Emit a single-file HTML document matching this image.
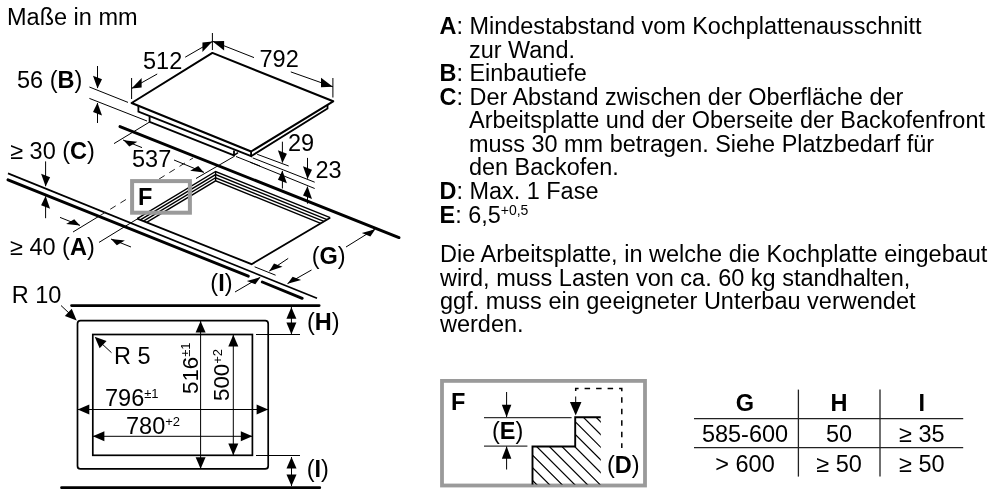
<!DOCTYPE html>
<html><head><meta charset="utf-8"><style>
html,body{margin:0;padding:0;background:#fff;width:1000px;height:500px;overflow:hidden}
svg{display:block;font-family:"Liberation Sans",sans-serif;fill:#000;filter:grayscale(1)}
</style></head><body>
<svg width="1000" height="500" viewBox="0 0 1000 500">
<path d="M251.10,151.50 L131.60,103.00 L212.40,52.90 L333.20,101.30 Z" fill="none" stroke="#000" stroke-width="2" stroke-linejoin="round"/>
<path d="M138.40,105.70 L138.40,111.60 L251.10,156.20 L251.10,151.50" fill="none" stroke="#000" stroke-width="1.8" stroke-linejoin="miter" />
<path d="M251.10,156.20 L327.50,108.60 L327.50,105.00" fill="none" stroke="#000" stroke-width="1.8" stroke-linejoin="miter" />
<path d="M149.60,116.20 L149.60,121.80 L234.00,155.30 L234.00,150.60" fill="none" stroke="#000" stroke-width="1.8" stroke-linejoin="miter" />
<path d="M234.00,155.30 L238.00,152.60" fill="none" stroke="#000" stroke-width="1.6" stroke-linejoin="miter" />
<path d="M8.00,173.40 L317.00,298.30" fill="none" stroke="#000" stroke-width="1.7" stroke-linejoin="miter" />
<path d="M8,179.8 L248.3,276.2 M262.3,282 L302.2,298.3" stroke="#000" stroke-width="2.9" stroke-linecap="round" fill="none"/>
<path d="M120,126.6 L399,237.6" stroke="#000" stroke-width="2.9" stroke-linecap="round" fill="none"/>
<path d="M137.20,218.70 L251.60,264.20 L330.20,217.70" fill="none" stroke="#000" stroke-width="1.8" stroke-linejoin="miter" />
<line x1="215.60" y1="171.50" x2="215.60" y2="180.90" stroke="#000" stroke-width="1.4" />
<path d="M137.20,218.70 L215.60,171.50 L330.20,217.70" fill="none" stroke="#000" stroke-width="1.4" stroke-linejoin="miter" />
<path d="M140.33,219.95 L215.60,174.63 L327.05,219.56" fill="none" stroke="#000" stroke-width="1.4" stroke-linejoin="miter" />
<path d="M143.46,221.19 L215.60,177.76 L323.91,221.42" fill="none" stroke="#000" stroke-width="1.4" stroke-linejoin="miter" />
<path d="M146.59,222.44 L215.60,180.89 L320.76,223.28" fill="none" stroke="#000" stroke-width="1.4" stroke-linejoin="miter" />
<line x1="131.60" y1="78.00" x2="131.60" y2="99.00" stroke="#000" stroke-width="1.0" />
<line x1="212.40" y1="33.00" x2="212.40" y2="50.00" stroke="#000" stroke-width="1.0" />
<line x1="332.90" y1="78.00" x2="332.90" y2="97.50" stroke="#000" stroke-width="1.0" />
<line x1="131.60" y1="88.40" x2="157.20" y2="74.00" stroke="#000" stroke-width="1.0" />
<line x1="185.20" y1="57.20" x2="212.40" y2="41.50" stroke="#000" stroke-width="1.0" />
<polygon points="131.60,88.40 141.62,87.51 141.62,78.01" fill="#000"/>
<polygon points="212.40,41.50 202.44,52.00 202.44,42.50" fill="#000"/>
<line x1="212.40" y1="41.20" x2="254.00" y2="57.60" stroke="#000" stroke-width="1.0" />
<line x1="290.80" y1="71.90" x2="332.90" y2="86.80" stroke="#000" stroke-width="1.0" />
<polygon points="212.40,41.20 224.12,50.57 224.12,41.07" fill="#000"/>
<polygon points="332.90,86.80 321.02,87.35 321.02,77.85" fill="#000"/>
<text x="143" y="68.7" font-size="23.5" font-weight="normal" text-anchor="start" >512</text>
<text x="259.5" y="66.5" font-size="23.5" font-weight="normal" text-anchor="start" >792</text>
<line x1="89.40" y1="87.00" x2="128.00" y2="102.40" stroke="#000" stroke-width="1.0" />
<line x1="89.40" y1="98.40" x2="147.00" y2="121.00" stroke="#000" stroke-width="1.0" />
<line x1="97.50" y1="66.00" x2="97.50" y2="88.00" stroke="#000" stroke-width="1.0" />
<polygon points="97.50,88.50 102.00,79.30 93.00,75.70" fill="#000"/>
<line x1="97.50" y1="103.00" x2="97.50" y2="123.00" stroke="#000" stroke-width="1.0" />
<polygon points="97.50,102.80 102.00,115.60 93.00,112.00" fill="#000"/>
<text x="17" y="87.6" font-size="23.5">56 (<tspan font-weight="bold">B</tspan>)</text>
<line x1="114.00" y1="143.60" x2="149.60" y2="122.00" stroke="#000" stroke-width="1.0" />
<line x1="123.00" y1="140.00" x2="142.00" y2="147.60" stroke="#000" stroke-width="1.0" />
<polygon points="123.50,140.20 137.37,141.72 129.31,146.55" fill="#000"/>
<line x1="174.00" y1="160.00" x2="204.00" y2="172.40" stroke="#000" stroke-width="1.0" />
<polygon points="204.00,172.40 198.23,165.93 190.17,170.77" fill="#000"/>
<text x="132" y="166.6" font-size="23.5" font-weight="normal" text-anchor="start" >537</text>
<line x1="196.00" y1="178.50" x2="234.00" y2="156.50" stroke="#000" stroke-width="1.0" />
<line x1="236.00" y1="156.50" x2="260.00" y2="166.00" stroke="#000" stroke-width="1.0" />
<path d="M73,232 L100,215.6" stroke="#000" stroke-width="1"/>
<path d="M100,215.6 L130,197 M159.1,179 L193,158" stroke="#222" stroke-width="1" stroke-dasharray="6.5,5.5"/>
<text x="9" y="158.4" font-size="22" font-weight="normal" text-anchor="start" ></text>
<text x="10.2" y="159" font-size="23.5">≥ 30 (<tspan font-weight="bold">C</tspan>)</text>
<line x1="45.60" y1="161.40" x2="45.60" y2="186.20" stroke="#000" stroke-width="1.0" />
<polygon points="45.60,186.50 50.10,177.30 41.10,173.70" fill="#000"/>
<line x1="45.60" y1="196.30" x2="45.60" y2="218.20" stroke="#000" stroke-width="1.0" />
<polygon points="45.60,196.00 50.10,208.80 41.10,205.20" fill="#000"/>
<text x="10" y="255.3" font-size="23.5">≥ 40 (<tspan font-weight="bold">A</tspan>)</text>
<line x1="60.00" y1="217.40" x2="80.00" y2="225.40" stroke="#000" stroke-width="1.0" />
<polygon points="80.00,225.60 74.22,219.16 66.16,224.00" fill="#000"/>
<line x1="99.00" y1="242.40" x2="137.20" y2="219.00" stroke="#000" stroke-width="1.0" />
<line x1="111.00" y1="239.00" x2="131.00" y2="247.00" stroke="#000" stroke-width="1.0" />
<polygon points="111.00,239.00 124.87,240.52 116.81,245.35" fill="#000"/>
<line x1="257.20" y1="154.30" x2="288.70" y2="166.00" stroke="#000" stroke-width="1.0" />
<line x1="252.70" y1="157.90" x2="314.70" y2="182.20" stroke="#000" stroke-width="1.0" />
<line x1="250.00" y1="162.20" x2="314.70" y2="188.50" stroke="#000" stroke-width="1.0" />
<line x1="282.40" y1="141.70" x2="282.40" y2="162.40" stroke="#000" stroke-width="1.0" />
<polygon points="282.40,163.00 286.90,153.80 277.90,150.20" fill="#000"/>
<line x1="282.40" y1="171.00" x2="282.40" y2="188.50" stroke="#000" stroke-width="1.0" />
<polygon points="282.40,170.50 286.90,183.30 277.90,179.70" fill="#000"/>
<line x1="307.50" y1="157.90" x2="307.50" y2="178.60" stroke="#000" stroke-width="1.0" />
<polygon points="307.50,179.00 312.00,169.80 303.00,166.20" fill="#000"/>
<line x1="307.50" y1="186.70" x2="307.50" y2="203.70" stroke="#000" stroke-width="1.0" />
<polygon points="307.50,186.30 312.00,199.10 303.00,195.50" fill="#000"/>
<text x="288" y="151.2" font-size="23.5" font-weight="normal" text-anchor="start" >29</text>
<text x="315.5" y="178.2" font-size="23.5" font-weight="normal" text-anchor="start" >23</text>
<rect x="132.1" y="181.1" width="57.8" height="31.6" fill="none" stroke="#9a9a9a" stroke-width="4"/>
<text x="138" y="205" font-size="23.5" font-weight="bold">F</text>
<line x1="346.00" y1="247.00" x2="375.00" y2="229.00" stroke="#000" stroke-width="1.0" />
<polygon points="375.30,229.20 370.34,236.52 361.80,233.10" fill="#000"/>
<line x1="311.50" y1="270.00" x2="287.50" y2="283.60" stroke="#000" stroke-width="1.0" />
<polygon points="287.50,283.80 301.13,280.12 292.59,276.71" fill="#000"/>
<text x="311.7" y="264" font-size="23.5">(<tspan font-weight="bold">G</tspan>)</text>
<line x1="254.60" y1="266.80" x2="275.60" y2="275.20" stroke="#000" stroke-width="1.0" />
<line x1="288.20" y1="258.40" x2="269.30" y2="271.00" stroke="#000" stroke-width="1.0" />
<polygon points="269.30,271.20 282.51,266.85 273.97,263.44" fill="#000"/>
<line x1="235.00" y1="292.00" x2="260.20" y2="277.30" stroke="#000" stroke-width="1.0" />
<polygon points="260.40,277.20 255.34,284.35 246.80,280.93" fill="#000"/>
<text x="210.3" y="290.6" font-size="23.5">(<tspan font-weight="bold">I</tspan>)</text>
<path d="M71.5,305.6 L319.2,305.6 M61.5,487.7 L319.8,487.7" stroke="#000" stroke-width="2.7" stroke-linecap="round"/>
<rect x="77.5" y="320.7" width="190.7" height="148.2" rx="3" fill="none" stroke="#000" stroke-width="1.7"/>
<rect x="92.8" y="334.5" width="159.6" height="120.8" fill="none" stroke="#000" stroke-width="1.7"/>
<line x1="256.00" y1="334.50" x2="300.00" y2="334.50" stroke="#000" stroke-width="1.0" />
<line x1="256.00" y1="455.50" x2="300.00" y2="455.50" stroke="#000" stroke-width="1.0" />
<text x="11.8" y="303.1" font-size="23.5" font-weight="normal" text-anchor="start" >R 10</text>
<text x="114" y="363.5" font-size="23.5" font-weight="normal" text-anchor="start" >R 5</text>
<line x1="61.00" y1="305.50" x2="70.00" y2="314.00" stroke="#000" stroke-width="1.0" />
<polygon points="76.70,320.40 64.84,316.04 71.73,308.79" fill="#000"/>
<line x1="111.50" y1="352.70" x2="100.00" y2="342.00" stroke="#000" stroke-width="1.0" />
<polygon points="94.70,336.70 106.55,341.08 99.65,348.32" fill="#000"/>
<line x1="200.60" y1="321.00" x2="200.60" y2="468.80" stroke="#000" stroke-width="1.0" />
<polygon points="200.60,321.00 205.60,332.60 195.60,332.60" fill="#000"/>
<polygon points="200.60,468.80 195.60,457.20 205.60,457.20" fill="#000"/>
<line x1="233.30" y1="334.80" x2="233.30" y2="455.20" stroke="#000" stroke-width="1.0" />
<polygon points="233.30,334.80 238.30,346.40 228.30,346.40" fill="#000"/>
<polygon points="233.30,455.20 228.30,443.60 238.30,443.60" fill="#000"/>
<line x1="77.70" y1="409.50" x2="268.20" y2="409.50" stroke="#000" stroke-width="1.0" />
<polygon points="77.70,409.50 89.30,404.50 89.30,414.50" fill="#000"/>
<polygon points="268.20,409.50 256.60,414.50 256.60,404.50" fill="#000"/>
<line x1="92.80" y1="436.30" x2="252.40" y2="436.30" stroke="#000" stroke-width="1.0" />
<polygon points="92.80,436.30 104.40,431.30 104.40,441.30" fill="#000"/>
<polygon points="252.40,436.30 240.80,441.30 240.80,431.30" fill="#000"/>
<text x="105" y="405.8" font-size="23.5">796<tspan font-size="13" dy="-7.5">±1</tspan></text>
<text x="126" y="433.6" font-size="23.5">780<tspan font-size="13" dy="-7.5">+2</tspan></text>
<text transform="translate(197.6,394) rotate(-90)" x="0" y="0" font-size="22.3">516<tspan font-size="13" dy="-7.5">±1</tspan></text>
<text transform="translate(229.2,401) rotate(-90)" x="0" y="0" font-size="22.3">500<tspan font-size="13" dy="-7.5">+2</tspan></text>
<line x1="291.40" y1="307.00" x2="291.40" y2="334.00" stroke="#000" stroke-width="1.0" />
<polygon points="291.40,307.20 296.40,318.80 286.40,318.80" fill="#000"/>
<polygon points="291.40,334.20 286.40,322.60 296.40,322.60" fill="#000"/>
<line x1="291.50" y1="457.00" x2="291.50" y2="486.00" stroke="#000" stroke-width="1.0" />
<polygon points="291.50,457.00 296.50,468.60 286.50,468.60" fill="#000"/>
<polygon points="291.50,486.00 286.50,474.40 296.50,474.40" fill="#000"/>
<text x="307" y="330" font-size="23.5">(<tspan font-weight="bold">H</tspan>)</text>
<text x="306.7" y="476.5" font-size="23.5">(<tspan font-weight="bold">I</tspan>)</text>
<rect x="442" y="380.9" width="203" height="104.6" fill="none" stroke="#9a9a9a" stroke-width="3.8"/>
<text x="451" y="409.5" font-size="23.5" font-weight="bold">F</text>
<line x1="484.00" y1="417.60" x2="571.60" y2="417.60" stroke="#333" stroke-width="1.2" />
<line x1="484.00" y1="446.20" x2="527.40" y2="446.20" stroke="#333" stroke-width="1.2" />
<line x1="506.60" y1="392.00" x2="506.60" y2="417.00" stroke="#000" stroke-width="1.0" />
<polygon points="506.60,417.30 501.85,404.80 511.35,404.80" fill="#000"/>
<line x1="506.60" y1="446.50" x2="506.60" y2="469.50" stroke="#000" stroke-width="1.0" />
<polygon points="506.60,446.20 511.35,458.70 501.85,458.70" fill="#000"/>
<text x="492" y="439.3" font-size="23.5">(<tspan font-weight="bold">E</tspan>)</text>
<clipPath id="hc"><path d="M575.2,417.2 L600.8,417.2 L600.8,484.5 L532.5,484.5 L532.5,446.5 L575.2,446.5 Z"/></clipPath>
<path clip-path="url(#hc)" d="M406.8,380 L526.8,500 M419.4,380 L539.4,500 M432.1,380 L552.1,500 M444.8,380 L564.8,500 M457.4,380 L577.4,500 M470.1,380 L590.1,500 M482.8,380 L602.8,500 M495.4,380 L615.5,500 M508.1,380 L628.1,500 M520.8,380 L640.8,500 M533.5,380 L653.5,500 M546.1,380 L666.1,500 M558.8,380 L678.8,500 M571.5,380 L691.5,500 M584.1,380 L704.1,500 M596.8,380 L716.8,500" stroke="#000" stroke-width="1.2"/>
<path d="M600.80,417.20 L575.20,417.20 L575.20,446.50 L532.50,446.50 L532.50,484.60" fill="none" stroke="#000" stroke-width="1.9" stroke-linejoin="miter" />
<line x1="575.70" y1="396.50" x2="575.70" y2="410.00" stroke="#000" stroke-width="1.0" />
<polygon points="575.70,415.50 569.95,402.00 581.45,402.00" fill="#000"/>
<path d="M575.7,391 L575.7,388.4 L621.8,388.4 L621.8,448" fill="none" stroke="#000" stroke-width="1.5" stroke-dasharray="5.5,6"/>
<text x="607" y="473" font-size="23.5">(<tspan font-weight="bold">D</tspan>)</text>
<line x1="694.00" y1="418.70" x2="963.20" y2="418.70" stroke="#222" stroke-width="1.3" />
<line x1="694.00" y1="447.60" x2="963.20" y2="447.60" stroke="#222" stroke-width="1.3" />
<line x1="798.40" y1="389.60" x2="798.40" y2="476.60" stroke="#222" stroke-width="1.3" />
<line x1="880.00" y1="389.60" x2="880.00" y2="476.60" stroke="#222" stroke-width="1.3" />
<text x="745" y="411.2" font-size="23.5" font-weight="bold" text-anchor="middle" >G</text>
<text x="839" y="411.2" font-size="23.5" font-weight="bold" text-anchor="middle" >H</text>
<text x="921.8" y="411.2" font-size="23.5" font-weight="bold" text-anchor="middle" >I</text>
<text x="745" y="442.2" font-size="23.5" font-weight="normal" text-anchor="middle" >585-600</text>
<text x="839" y="442.2" font-size="23.5" font-weight="normal" text-anchor="middle" >50</text>
<text x="921.8" y="442.2" font-size="23.5" font-weight="normal" text-anchor="middle" >≥ 35</text>
<text x="745" y="472" font-size="23.5" font-weight="normal" text-anchor="middle" >&gt; 600</text>
<text x="839" y="472" font-size="23.5" font-weight="normal" text-anchor="middle" >≥ 50</text>
<text x="921.8" y="472" font-size="23.5" font-weight="normal" text-anchor="middle" >≥ 50</text>
<text x="7" y="25" font-size="23.5">Maße in mm</text>
<text x="439.5" y="34.1" font-size="23.45"><tspan font-weight="bold">A</tspan>: Mindestabstand vom Kochplattenausschnitt</text>
<text x="469" y="57.650000000000006" font-size="23.45">zur Wand.</text>
<text x="439.5" y="81.2" font-size="23.45"><tspan font-weight="bold">B</tspan>: Einbautiefe</text>
<text x="439.5" y="104.75" font-size="23.45"><tspan font-weight="bold">C</tspan>: Der Abstand zwischen der Oberfläche der</text>
<text x="469" y="128.3" font-size="23.45">Arbeitsplatte und der Oberseite der Backofenfront</text>
<text x="469" y="151.85" font-size="23.45">muss 30 mm betragen. Siehe Platzbedarf für</text>
<text x="469" y="175.4" font-size="23.45">den Backofen.</text>
<text x="439.5" y="198.95" font-size="23.45"><tspan font-weight="bold">D</tspan>: Max. 1 Fase</text>
<text x="439.5" y="222.5" font-size="23.45"><tspan font-weight="bold">E</tspan>: 6,5<tspan font-size="14" dy="-7.2">+0,5</tspan></text>
<text x="440" y="262.4" font-size="23.5">Die Arbeitsplatte, in welche die Kochplatte eingebaut</text>
<text x="440" y="285.8" font-size="23.5">wird, muss Lasten von ca. 60 kg standhalten,</text>
<text x="440" y="309.1" font-size="23.5">ggf. muss ein geeigneter Unterbau verwendet</text>
<text x="440" y="332.4" font-size="23.5">werden.</text>
</svg></body></html>
